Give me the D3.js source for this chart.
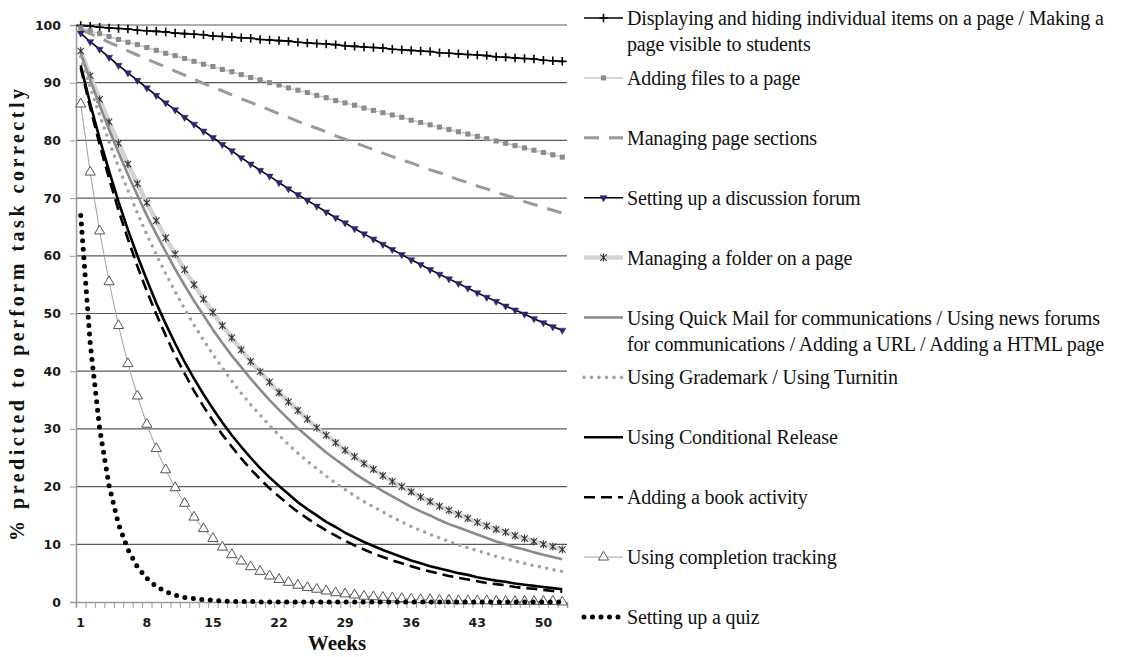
<!DOCTYPE html>
<html>
<head>
<meta charset="utf-8">
<script src="https://cdnjs.cloudflare.com/ajax/libs/d3/7.8.5/d3.min.js"></script>
<style>
  html, body { margin: 0; padding: 0; background: #fff; }
  svg { display: block; }
</style>
</head>
<body>
<svg id="chart" width="1125" height="657"></svg>
<script>
// ---------------- DATA ----------------
const weeks = [1,2,3,4,5,6,7,8,9,10,11,12,13,14,15,16,17,18,19,20,21,22,23,24,25,26,
  27,28,29,30,31,32,33,34,35,36,37,38,39,40,41,42,43,44,45,46,47,48,49,50,51,52];
const xTickLabels = [1, 8, 15, 22, 29, 36, 43, 50];
const yTickValues = [0, 10, 20, 30, 40, 50, 60, 70, 80, 90, 100];

const seriesNames = [
  "Displaying and hiding individual items on a page / Making a\npage visible to students",
  "Adding files to a page",
  "Managing page sections",
  "Setting up a discussion forum",
  "Managing a folder on a page",
  "Using Quick Mail for communications / Using news forums\nfor communications  / Adding a URL / Adding a HTML page",
  "Using Grademark / Using Turnitin",
  "Using Conditional Release",
  "Adding a book activity",
  "Using completion tracking",
  "Setting up a quiz"
];

const displayingHiding = [99.9,99.8,99.6,99.5,99.4,99.3,99.1,99.0,98.9,98.8,98.6,98.5,98.4,98.3,98.1,98.0,
  97.9,97.8,97.7,97.5,97.4,97.3,97.2,97.0,96.9,96.8,96.7,96.6,96.4,96.3,96.2,96.1,96.0,95.8,95.7,95.6,
  95.5,95.4,95.2,95.1,95.0,94.9,94.8,94.7,94.5,94.4,94.3,94.2,94.1,93.9,93.8,93.7];
const addingFiles = [99.5,99.0,98.5,98.0,97.5,97.0,96.6,96.1,95.6,95.1,94.7,94.2,93.7,93.2,92.8,92.3,
  91.9,91.4,90.9,90.5,90.0,89.6,89.1,88.7,88.3,87.8,87.4,86.9,86.5,86.1,85.6,85.2,84.8,84.4,84.0,83.5,
  83.1,82.7,82.3,81.9,81.5,81.1,80.7,80.3,79.9,79.5,79.1,78.7,78.3,77.9,77.5,77.1];
const managingSections = [99.2,98.5,97.8,97.0,96.3,95.5,94.8,94.1,93.4,92.7,92.0,91.3,90.6,89.9,89.2,88.6,
  87.9,87.2,86.6,85.9,85.3,84.6,84.0,83.3,82.7,82.1,81.5,80.8,80.2,79.6,79.0,78.4,77.8,77.2,76.6,76.1,
  75.5,74.9,74.4,73.8,73.2,72.7,72.1,71.6,71.0,70.5,70.0,69.4,68.9,68.4,67.9,67.4];
const discussionForum = [98.6,97.1,95.8,94.4,93.0,91.7,90.4,89.1,87.8,86.5,85.3,84.0,82.8,81.6,80.5,79.3,
  78.2,77.0,75.9,74.8,73.8,72.7,71.6,70.6,69.6,68.6,67.6,66.6,65.7,64.7,63.8,62.9,62.0,61.1,60.2,59.3,
  58.5,57.6,56.8,56.0,55.2,54.4,53.6,52.8,52.1,51.3,50.6,49.9,49.1,48.4,47.7,47.1];
const managingFolder = [95.5,91.2,87.1,83.2,79.5,75.9,72.5,69.2,66.1,63.1,60.3,57.6,55.0,52.5,50.2,47.9,
  45.8,43.7,41.7,39.9,38.1,36.3,34.7,33.2,31.7,30.2,28.9,27.6,26.3,25.2,24.0,23.0,21.9,20.9,20.0,19.1,
  18.2,17.4,16.6,15.9,15.2,14.5,13.8,13.2,12.6,12.1,11.5,11.0,10.5,10.0,9.6,9.1];
const quickMail = [95.1,90.5,86.1,81.9,77.9,74.1,70.5,67.0,63.8,60.7,57.7,54.9,52.2,49.7,47.2,44.9,
  42.7,40.7,38.7,36.8,35.0,33.3,31.7,30.1,28.7,27.3,25.9,24.7,23.5,22.3,21.2,20.2,19.2,18.3,17.4,16.5,
  15.7,15.0,14.2,13.5,12.9,12.3,11.7,11.1,10.5,10.0,9.5,9.1,8.6,8.2,7.8,7.4];
const grademark = [94.5,89.3,84.4,79.8,75.4,71.3,67.4,63.7,60.2,56.9,53.8,50.8,48.0,45.4,42.9,40.6,
  38.3,36.2,34.2,32.4,30.6,28.9,27.3,25.8,24.4,23.1,21.8,20.6,19.5,18.4,17.4,16.5,15.6,14.7,13.9,13.1,
  12.4,11.7,11.1,10.5,9.9,9.4,8.9,8.4,7.9,7.5,7.1,6.7,6.3,6.0,5.6,5.3];
const conditionalRelease = [93.0,86.4,80.3,74.7,69.4,64.5,60.0,55.8,51.8,48.2,44.8,41.6,38.7,36.0,33.5,31.1,
  28.9,26.9,25.0,23.2,21.6,20.1,18.7,17.3,16.1,15.0,13.9,13.0,12.0,11.2,10.4,9.7,9.0,8.4,7.8,7.2,
  6.7,6.2,5.8,5.4,5.0,4.7,4.3,4.0,3.7,3.5,3.2,3.0,2.8,2.6,2.4,2.2];
const bookActivity = [92.6,85.7,79.3,73.4,67.9,62.9,58.2,53.9,49.9,46.2,42.7,39.6,36.6,33.9,31.4,29.0,
  26.9,24.9,23.0,21.3,19.7,18.3,16.9,15.6,14.5,13.4,12.4,11.5,10.6,9.8,9.1,8.4,7.8,7.2,6.7,6.2,
  5.7,5.3,4.9,4.5,4.2,3.9,3.6,3.3,3.1,2.9,2.6,2.4,2.3,2.1,1.9,1.8];
const completionTracking = [86.3,74.5,64.3,55.5,47.9,41.3,35.7,30.8,26.6,22.9,19.8,17.1,14.7,12.7,11.0,9.5,
  8.2,7.1,6.1,5.3,4.5,3.9,3.4,2.9,2.5,2.2,1.9,1.6,1.4,1.2,1.0,0.9,0.8,0.7,0.6,0.5,
  0.4,0.4,0.3,0.3,0.2,0.2,0.2,0.2,0.1,0.1,0.1,0.1,0.1,0.1,0.1,0.0];
const settingQuiz = [67.0,44.9,30.1,20.2,13.5,9.1,6.1,4.1,2.7,1.8,1.2,0.8,0.6,0.4,0.3,0.2,
  0.1,0.1,0.1,0.0,0.0,0.0,0.0,0.0,0.0,0.0,0.0,0.0,0.0,0.0,0.0,0.0,0.0,0.0,0.0,0.0,
  0.0,0.0,0.0,0.0,0.0,0.0,0.0,0.0,0.0,0.0,0.0,0.0,0.0,0.0,0.0,0.0];

const seriesValues = [displayingHiding, addingFiles, managingSections, discussionForum, managingFolder,
  quickMail, grademark, conditionalRelease, bookActivity, completionTracking, settingQuiz];

// ---------------- STYLES ----------------
const plusSym = { draw(ctx, size) { const r = Math.sqrt(size) / 2;
  ctx.moveTo(-r, 0); ctx.lineTo(r, 0); ctx.moveTo(0, -r); ctx.lineTo(0, r); } };
const starSym = { draw(ctx, size) { const r = Math.sqrt(size) / 2;
  ctx.moveTo(0, -r); ctx.lineTo(0, r);
  ctx.moveTo(-r * 0.8, -r * 0.8); ctx.lineTo(r * 0.8, r * 0.8);
  ctx.moveTo(-r * 0.8, r * 0.8); ctx.lineTo(r * 0.8, -r * 0.8); } };

const styles = [
  { stroke: "#000", width: 1.6, marker: { type: plusSym, size: 72, fill: "none", stroke: "#000", sw: 1.6 } },
  { stroke: "#c9c9c9", width: 1.5, marker: { type: d3.symbolSquare, size: 26, fill: "#8c8c8c", stroke: "none", sw: 0 } },
  { stroke: "#9a9a9a", width: 3, dash: "15,10" },
  { stroke: "#000", width: 1.6, marker: { type: d3.symbolTriangle, size: 22, fill: "#2e2470", stroke: "#2e2470", sw: 0.5, rot: 180 } },
  { stroke: "#d3d3d3", width: 4.5, marker: { type: starSym, size: 64, fill: "none", stroke: "#333", sw: 1.1 } },
  { stroke: "#8a8a8a", width: 2.6 },
  { stroke: "#a3a3a3", width: 3.6, dash: "0,7.5", cap: "round" },
  { stroke: "#000", width: 2.6 },
  { stroke: "#000", width: 2.6, dash: "11,6" },
  { stroke: "#a0a0a0", width: 1, marker: { type: d3.symbolTriangle, size: 45, fill: "#fff", stroke: "#555", sw: 1 } },
  { stroke: "#000", width: 5, dash: "0,8.5", cap: "round" }
];

// ---------------- LAYOUT ----------------
const svg = d3.select("#chart");
const plot = { left: 76, right: 567, top: 25, bottom: 602 };

const x = d3.scaleLinear().domain([0.5, weeks.length + 0.5]).range([plot.left, plot.right]);
const y = d3.scaleLinear().domain([0, 100]).range([plot.bottom, plot.top]);

// gridlines
svg.append("g").selectAll("line").data(yTickValues.filter(v => v > 0)).join("line")
  .attr("x1", plot.left).attr("x2", plot.right)
  .attr("y1", d => y(d)).attr("y2", d => y(d))
  .attr("stroke", "#5a5a5a").attr("stroke-width", 1.2);

// y axis
const yAxis = svg.append("g").attr("transform", `translate(${plot.left},0)`)
  .call(d3.axisLeft(y).tickValues(yTickValues).tickSize(6).tickFormat(d3.format("d")));
yAxis.select(".domain").attr("stroke", "#9a9a9a").attr("stroke-width", 1.5);
yAxis.selectAll(".tick line").attr("stroke", "#9a9a9a");
yAxis.selectAll(".tick text").attr("x", -15)
  .style("font-family", "'DejaVu Sans', sans-serif").style("font-weight", "bold")
  .style("font-size", "12.5px").attr("fill", "#1a1a1a");

// x axis (tick marks at category boundaries)
const boundaries = weeks.map(w => w - 0.5).concat([weeks.length + 0.5]);
const xAxis = svg.append("g").attr("transform", `translate(0,${plot.bottom})`)
  .call(d3.axisBottom(x).tickValues(boundaries).tickSize(6).tickFormat(""));
xAxis.select(".domain").attr("stroke", "#9a9a9a").attr("stroke-width", 1.5);
xAxis.selectAll(".tick line").attr("stroke", "#9a9a9a");

svg.append("g").selectAll("text").data(xTickLabels).join("text")
  .attr("x", d => x(d)).attr("y", plot.bottom + 25)
  .attr("text-anchor", "middle")
  .style("font-family", "'DejaVu Sans', sans-serif").style("font-weight", "bold")
  .style("font-size", "12.5px").attr("fill", "#1a1a1a")
  .text(d => d);

// axis titles
svg.append("text").attr("x", 337).attr("y", 650).attr("text-anchor", "middle")
  .style("font-family", "'Liberation Serif', serif").style("font-weight", "bold")
  .style("font-size", "21px").attr("fill", "#111").text("Weeks");

svg.append("text").attr("transform", "translate(24,315) rotate(-90)").attr("text-anchor", "middle")
  .attr("textLength", 452).attr("lengthAdjust", "spacing")
  .style("font-family", "'Liberation Serif', serif").style("font-weight", "bold")
  .style("font-size", "20px").attr("fill", "#111").text("% predicted to perform task correctly");

// series
const line = d3.line().x((d, i) => x(weeks[i])).y(d => y(d));
const seriesG = svg.append("g");
seriesValues.forEach((vals, si) => {
  const st = styles[si];
  const g = seriesG.append("g");
  g.append("path").datum(vals).attr("d", line)
    .attr("fill", "none").attr("stroke", st.stroke).attr("stroke-width", st.width)
    .attr("stroke-dasharray", st.dash || null)
    .attr("stroke-linecap", st.cap || "butt").attr("stroke-linejoin", "round");
  if (st.marker) {
    const m = st.marker;
    g.selectAll("path.m").data(vals).join("path").attr("class", "m")
      .attr("d", d3.symbol().type(m.type).size(m.size))
      .attr("transform", (d, i) => `translate(${x(weeks[i])},${y(d)})${m.rot ? ` rotate(${m.rot})` : ""}`)
      .attr("fill", m.fill).attr("stroke", m.stroke).attr("stroke-width", m.sw);
  }
});

// legend
const legend = svg.append("g");
const legY0 = 18, legStep = 59.9, sx1 = 584, sx2 = 623, tx = 627;
seriesNames.forEach((name, si) => {
  const st = styles[si];
  const ly = legY0 + legStep * si;
  const g = legend.append("g");
  g.append("line").attr("x1", sx1).attr("x2", sx2).attr("y1", ly).attr("y2", ly)
    .attr("stroke", st.stroke).attr("stroke-width", st.width)
    .attr("stroke-dasharray", st.dash || null).attr("stroke-linecap", st.cap || "butt");
  if (st.marker) {
    const m = st.marker;
    g.append("path").attr("d", d3.symbol().type(m.type).size(m.size))
      .attr("transform", `translate(${(sx1 + sx2) / 2},${ly})${m.rot ? ` rotate(${m.rot})` : ""}`)
      .attr("fill", m.fill).attr("stroke", m.stroke).attr("stroke-width", m.sw);
  }
  const lines = name.split("\n");
  const t = g.append("text").attr("x", tx).attr("y", ly + 7)
    .style("font-family", "'Liberation Serif', serif").style("font-size", "20px")
    .style("letter-spacing", "-0.15px").attr("fill", "#111");
  lines.forEach((ln, li) => {
    t.append("tspan").attr("x", tx).attr("dy", li === 0 ? 0 : 26).text(ln);
  });
});
</script>
</body>
</html>
